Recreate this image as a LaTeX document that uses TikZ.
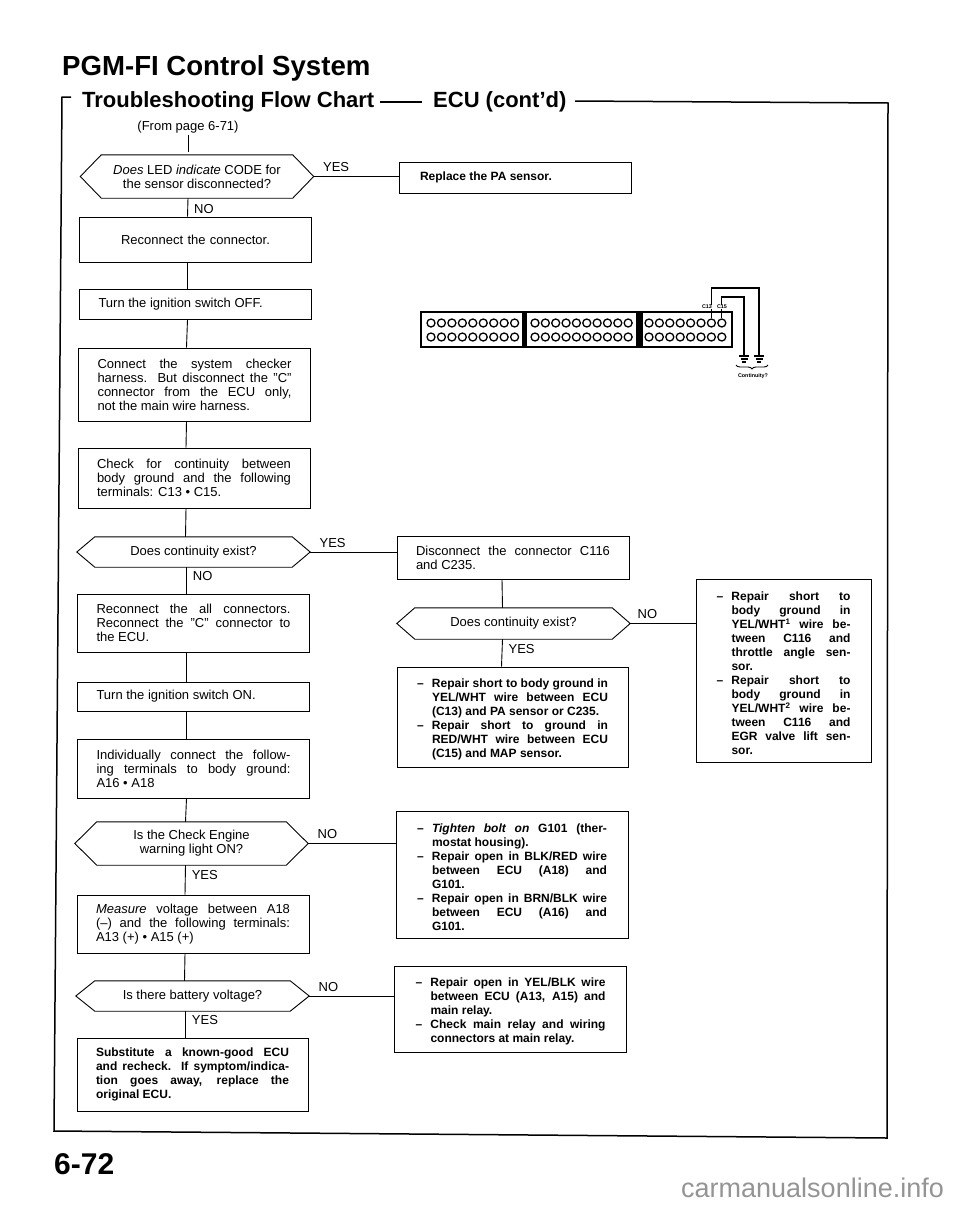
\documentclass[tikz,border=0pt]{standalone}
\usepackage{fontspec}
\setmainfont{Liberation Sans}
\usetikzlibrary{decorations.pathreplacing}
\newcommand{\txtreg}{\fontsize{13}{14}\selectfont\hyphenpenalty=10000 }
\newcommand{\txtbold}{\fontsize{12}{14}\selectfont\bfseries\hyphenpenalty=10000 }
\newcommand{\itm}{\par\leftskip=15pt\noindent\kern-15pt\hbox to 15pt{--\hfil}}
\newcommand{\hexa}[2]{\draw[line width=0.9pt] (#1.west) -- ([xshift=#2]#1.north west) -- ([xshift=-#2]#1.north east) -- (#1.east) -- ([xshift=-#2]#1.south east) -- ([xshift=#2]#1.south west) -- cycle;}
\tikzstyle{block} = [rectangle, draw, text width=194pt, inner xsep=19pt, inner ysep=0pt, align=justify, line width=0.9pt, font=\txtreg]
\tikzstyle{blockb} = [block, text width=190pt, inner xsep=21pt, font=\txtbold]
\tikzstyle{decision} = [inner sep=0pt, minimum width=233pt, align=center, font=\txtreg]
\tikzstyle{line} = [draw, line width=0.9pt]
\tikzstyle{answer} = [font=\txtreg, inner sep=0pt, pos=0, anchor=south west, xshift=9pt, yshift=4pt]
\tikzstyle{answerv} = [font=\txtreg, inner sep=0pt, pos=0.35, anchor=west, xshift=6pt]
\tikzstyle{socket} = [circle, draw, line width=1.3pt, minimum size=8pt, inner sep=0pt]
\tikzstyle{heading} = [inner sep=0pt, anchor=base west, font=\bfseries]
\tikzstyle{tiny} = [inner sep=0.5pt, fill=white, font=\fontsize{5.4}{6}\selectfont\bfseries]

\begin{document}
\begin{tikzpicture}[x=1pt,y=-1pt]
\useasboundingbox (0,0) rectangle (960,1205);
% Headings
	\node [heading, font=\fontsize{27.6}{30}\selectfont\bfseries] (title) at (62,75) {PGM-FI Control System};
	\node [heading, font=\fontsize{22}{24}\selectfont\bfseries] (flow) at (82,107) {Troubleshooting Flow Chart};
	\node [heading, font=\fontsize{22}{24}\selectfont\bfseries] (ecu) at (433,107) {ECU (cont'd)};
	\node [heading, font=\fontsize{30}{32}\selectfont\bfseries] (page) at (54,1174) {6-72};
	\node [heading, font=\fontsize{27}{30}\selectfont, text=black!42] (mark) at (681,1197) {carmanualsonline.info};
	\node [font=\txtreg, inner sep=2pt] (from) at (188,127) {(From page 6-71)};

% Frame
	\draw [line width=1.5pt] (71,97) -- (62,97) -- (54,1131) -- (887,1138) -- (888,103) -- (575,101);
	\draw [line width=1.2pt] (380,102) -- (422,102);

% Place nodes
	\node [decision, minimum height=43pt] (Hex1) at (197,176.5) {\textit{Does} LED \textit{indicate} CODE for\\the sensor disconnected?};
	\node [blockb, minimum height=31pt] (Replace) at (515,177.5) {Replace the PA sensor.};
	\node [block, align=center, minimum height=45pt] (Reconn) at (195.5,239.5) {Reconnect the connector.};
	\node [block, minimum height=30pt] (TurnOff) at (195.5,304) {Turn the ignition switch OFF.};
	\node [block, minimum height=73pt] (Harness) at (194.5,384.5) {Connect the system checker\linebreak harness. But disconnect the ''C''\linebreak connector from the ECU only,\linebreak not the main wire harness.};
	\node [block, minimum height=60pt] (Check) at (194,478) {Check for continuity between\linebreak body ground and the following\linebreak terminals: C13 \textbullet\ C15.};
	\node [decision, minimum height=30pt] (Hex2) at (193.5,552) {Does continuity exist?};
	\node [block, minimum height=58pt] (ReAll) at (193.5,623) {Reconnect the all connectors.\linebreak Reconnect the ''C'' connector to\linebreak the ECU.};
	\node [block, minimum height=29pt] (TurnOn) at (193.5,696.5) {Turn the ignition switch ON.};
	\node [block, minimum height=59pt] (Indiv) at (193.5,768.5) {Individually connect the follow-\linebreak ing terminals to body ground:\linebreak A16 \textbullet\ A18};
	\node [decision, minimum height=43pt] (Hex3) at (191.5,843.5) {Is the Check Engine\\warning light ON?};
	\node [block, minimum height=58pt] (Measure) at (193,924) {\textit{Measure} voltage between A18\linebreak (--) and the following terminals:\linebreak A13 (+) \textbullet\ A15 (+)};
	\node [decision, minimum height=30pt] (Hex4) at (192.5,996) {Is there battery voltage?};
	\node [block, text width=193pt, font=\txtbold, minimum height=73pt] (Subst) at (192.5,1074.5) {Substitute a known-good ECU\linebreak and recheck. If symptom/indica-\linebreak tion goes away, replace the\linebreak original ECU.};
	\node [block, minimum height=43pt] (Disconn) at (513,557.5) {Disconnect the connector C116\linebreak and C235.};
	\node [decision, minimum height=31pt] (Hex5) at (513.5,623.5) {Does continuity exist?};
	\node [blockb, text width=191pt, inner xsep=20pt, minimum height=100pt] (Repair) at (512.5,717) {\itm Repair short to body ground in\linebreak YEL/WHT wire between ECU\linebreak (C13) and PA sensor or C235.\itm Repair short to ground in\linebreak RED/WHT wire between ECU\linebreak (C15) and MAP sensor.\par};
	\node [blockb, text width=134pt, inner xsep=20.5pt, minimum height=183pt] (Short) at (783.5,670.5) {\itm Repair short to\linebreak body ground in\linebreak YEL/WHT\textsuperscript{1} wire be-\linebreak tween C116 and\linebreak throttle angle sen-\linebreak sor.\itm Repair short to\linebreak body ground in\linebreak YEL/WHT\textsuperscript{2} wire be-\linebreak tween C116 and\linebreak EGR valve lift sen-\linebreak sor.\par};
	\node [blockb, minimum height=127pt] (Tighten) at (512,874.5) {\itm \textit{Tighten bolt on} G101 (ther-\linebreak mostat housing).\itm Repair open in BLK/RED wire\linebreak between ECU (A18) and\linebreak G101.\itm Repair open in BRN/BLK wire\linebreak between ECU (A16) and\linebreak G101.\par};
	\node [blockb, minimum height=86pt] (Open) at (510.5,1009) {\itm Repair open in YEL/BLK wire\linebreak between ECU (A13, A15) and\linebreak main relay.\itm Check main relay and wiring\linebreak connectors at main relay.\par};
	\hexa{Hex1}{21pt}
	\hexa{Hex2}{18pt}
	\hexa{Hex3}{22pt}
	\hexa{Hex4}{19pt}
	\hexa{Hex5}{18pt}

% Draw edges
	\path [line, shorten >=3pt] (from.south) -- ([xshift=-9pt]Hex1.north);
	\path [line] ([xshift=-9pt]Hex1.south) -- node[answerv, pos=0.58] (noA) {NO} ([xshift=-8pt]Reconn.north);
	\path [line] ([xshift=-8pt]Reconn.south) -- ([xshift=-8pt]TurnOff.north);
	\path [line] ([xshift=-8pt]TurnOff.south) -- ([xshift=-8pt]Harness.north);
	\path [line] ([xshift=-8pt]Harness.south) -- ([xshift=-8pt]Check.north);
	\path [line] ([xshift=-8pt]Check.south) -- ([xshift=-8pt]Hex2.north);
	\path [line] ([xshift=-7pt]Hex2.south) -- node[answerv] (noB) {NO} ([xshift=-7pt]ReAll.north);
	\path [line] ([xshift=-7pt]ReAll.south) -- ([xshift=-7pt]TurnOn.north);
	\path [line] ([xshift=-7pt]TurnOn.south) -- ([xshift=-7pt]Indiv.north);
	\path [line] ([xshift=-7pt]Indiv.south) -- ([xshift=-6pt]Hex3.north);
	\path [line] ([xshift=-6pt]Hex3.south) -- node[answerv] (yesA) {YES} ([xshift=-8pt]Measure.north);
	\path [line] ([xshift=-8pt]Measure.south) -- ([xshift=-8pt]Hex4.north);
	\path [line] ([xshift=-7pt]Hex4.south) -- node[answerv] (yesB) {YES} ([xshift=-7pt]Subst.north);
	\path [line] (Hex1.east) -- node[answer] (yesC) {YES} (Hex1.east -| Replace.west);
	\path [line] (Hex2.east) -- node[answer] (yesD) {YES} (Hex2.east -| Disconn.west);
	\path [line] (Hex3.east) -- node[answer] (noC) {NO} (Hex3.east -| Tighten.west);
	\path [line] (Hex4.east) -- node[answer] (noD) {NO} (Hex4.east -| Open.west);
	\path [line] (Hex5.east) -- node[answer, xshift=-2pt] (noE) {NO} (Hex5.east -| Short.west);
	\path [line] ([xshift=-11pt]Disconn.south) -- ([xshift=-11pt]Hex5.north);
	\path [line] ([xshift=-11pt]Hex5.south) -- node[answerv] (yesE) {YES} ([xshift=-11pt]Repair.north);

% Connector
	\node [draw, line width=1.2pt, inner sep=0pt, minimum width=311pt, minimum height=35pt] (ecuConn) at (576.5,329.5) {};
	\node [fill=black, inner sep=0pt, minimum width=5pt, minimum height=35pt] (sepA) at (524.5,329.5) {};
	\node [fill=black, inner sep=0pt, minimum width=7pt, minimum height=35pt] (sepB) at (639.5,329.5) {};
	\foreach \i in {0,...,8} {
		\node [socket] (aTop\i) at ({431+10.45*\i},323) {};
		\node [socket] (aLow\i) at ({431+10.45*\i},337) {};
	}
	\foreach \i in {0,...,9} {
		\node [socket] (bTop\i) at ({535+10.35*\i},323) {};
		\node [socket] (bLow\i) at ({535+10.35*\i},337) {};
	}
	\foreach \i in {0,...,7} {
		\node [socket] (cTop\i) at ({649+10.4*\i},323) {};
		\node [socket] (cLow\i) at ({649+10.4*\i},337) {};
	}
	\coordinate (cornerA) at (759,288);
	\coordinate (cornerB) at (744,297);
	\coordinate (gndA) at (759,356);
	\coordinate (gndB) at (744,356);
	\coordinate (braceL) at (736,365);
	\coordinate (braceR) at (768,365);
	\draw [line width=1.2pt] (cTop6.north) |- (cornerA) -- (gndA);
	\draw [line width=1.2pt] (cTop7.north) |- (cornerB) -- (gndB);
	\node [tiny] (labA) at (707,307) {C13};
	\node [tiny] (labB) at (722,307) {C15};
	\foreach \g in {gndA,gndB} {
		\draw [line width=1.3pt] ([xshift=-5pt]\g) -- ([xshift=5pt]\g);
		\draw [line width=1.3pt] ([xshift=-3.5pt,yshift=-3pt]\g) -- ([xshift=3.5pt,yshift=-3pt]\g);
		\draw [line width=1.3pt] ([xshift=-2pt,yshift=-6pt]\g) -- ([xshift=2pt,yshift=-6pt]\g);
	}
	\draw [line width=0.9pt, decorate, decoration={brace, mirror, amplitude=4pt}] (braceL) -- (braceR);
	\node [tiny, fill=none] (labC) at (753,376) {Continuity?};
\end{tikzpicture}
\end{document}
